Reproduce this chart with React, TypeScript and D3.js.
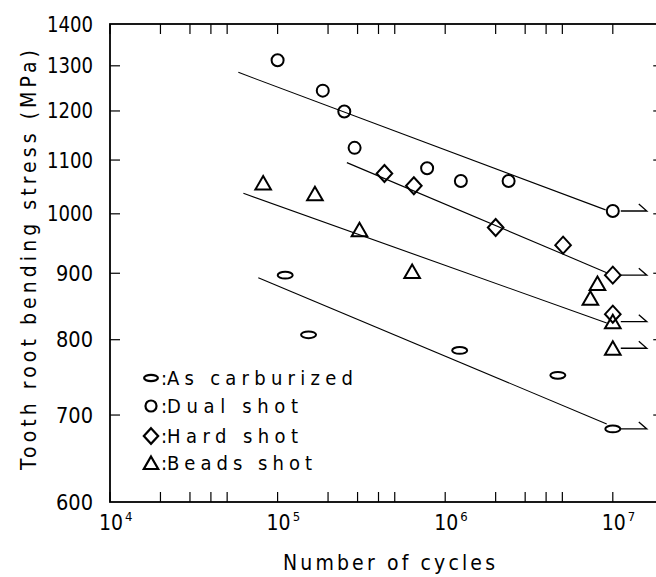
import React from "react";
import * as d3 from "d3";

// ---- data ----
const asCarbN = [1.11e5, 1.53e5, 1.22e6, 4.7e6, 1e7];
const asCarbS = [897, 807, 785, 751, 683];
const asCarbRunout = [false, false, false, false, true];

const dualN = [1.0e5, 1.86e5, 2.5e5, 2.88e5, 7.8e5, 1.24e6, 2.39e6, 1e7];
const dualS = [1313, 1244, 1199, 1124, 1084, 1060, 1060, 1005];
const dualRunout = [false, false, false, false, false, false, false, true];

const hardN = [4.34e5, 6.5e5, 2.0e6, 5.05e6, 1e7, 1e7];
const hardS = [1074, 1051, 976, 946, 897, 837];
const hardRunout = [false, false, false, false, true, false];

const beadsN = [8.2e4, 1.67e5, 3.08e5, 6.35e5, 7.35e6, 8.1e6, 1e7, 1e7];
const beadsS = [1056, 1036, 972, 903, 861, 884, 826, 788];
const beadsRunout = [false, false, false, false, false, false, true, true];

// fitted S-N lines: [startN, startS, endN, endS]
const dualLine = [5.83e4, 1285, 9.06e6, 1007];
const hardLine = [2.59e5, 1095, 9.2e6, 901];
const beadsLine = [6.25e4, 1037, 9.2e6, 824];
const carbLine = [7.67e4, 893, 9.2e6, 689];

const yTicks = [600, 700, 800, 900, 1000, 1100, 1200, 1300, 1400];
const xDecades = [1e4, 1e5, 1e6, 1e7];
const xExponents = ["4", "5", "6", "7"];
const minorMult = [2, 3, 4, 5];

const legendLabels = ["As carburized", "Dual shot", "Hard shot", "Beads shot"];
const legendShapes = ["ellipse", "circle", "diamond", "triangle"];

const yTitle = "Tooth root bending stress (MPa)";
const xTitle = "Number of cycles";

const FONT = "'Liberation Sans Narrow', 'DejaVu Sans Condensed', 'Liberation Sans', sans-serif";

function Marker({ shape, x, y, s = 1, sw = 2 }: { shape: string; x: number; y: number; s?: number; sw?: number }) {
  const common = { fill: "none", stroke: "#000", strokeWidth: sw };
  if (shape === "circle") return <circle cx={x} cy={y} r={6 * s} {...common} />;
  if (shape === "ellipse") return <ellipse cx={x} cy={y} rx={7.5 * s} ry={3.4 * s} {...common} />;
  if (shape === "diamond")
    return (
      <path
        d={`M${x},${y - 8.5 * s}L${x + 7.8 * s},${y}L${x},${y + 8.5 * s}L${x - 7.8 * s},${y}Z`}
        {...common}
      />
    );
  return (
    <path d={`M${x},${y - 7 * s}L${x + 7.8 * s},${y + 6.5 * s}L${x - 7.8 * s},${y + 6.5 * s}Z`} {...common} />
  );
}

export default function App() {
  const W = 656,
    H = 577;
  const x0 = 110,
    dec = 167.6;
  const xs = d3.scaleLog().domain([1e4, 2e7]).range([x0, x0 + Math.log10(2000) * dec]);
  const ys = d3.scaleLog().domain([600, 1400]).range([502, 24]);
  const xR = xs(2e7);
  const yT = ys(1400),
    yB = ys(600);

  const series = [
    { shape: "ellipse", N: asCarbN, S: asCarbS, R: asCarbRunout, line: carbLine },
    { shape: "circle", N: dualN, S: dualS, R: dualRunout, line: dualLine },
    { shape: "diamond", N: hardN, S: hardS, R: hardRunout, line: hardLine },
    { shape: "triangle", N: beadsN, S: beadsS, R: beadsRunout, line: beadsLine },
  ];

  const minorTicks: number[] = [];
  xDecades.forEach((d) => {
    minorTicks.push(d);
    if (d < 1e7) minorMult.forEach((m) => minorTicks.push(d * m));
  });

  const lineGen = d3
    .line<[number, number]>()
    .x((d) => xs(d[0]))
    .y((d) => ys(d[1]));

  return (
    <svg
      width={W}
      height={H}
      style={{ position: "absolute", left: 0, top: 0, background: "#fff" }}
      fontFamily={FONT}
    >
      <rect x={0} y={0} width={W} height={H} fill="#fff" />
      {/* frame */}
      <rect x={x0} y={yT} width={xR - x0} height={yB - yT} fill="none" stroke="#000" strokeWidth={1.8} />
      {/* x ticks */}
      {minorTicks.map((v, i) => (
        <g key={"xt" + i}>
          <line x1={xs(v)} x2={xs(v)} y1={yT} y2={yT + 10} stroke="#000" strokeWidth={1.2} />
          <line x1={xs(v)} x2={xs(v)} y1={yB} y2={yB - 10} stroke="#000" strokeWidth={1.2} />
        </g>
      ))}
      {/* y ticks */}
      {yTicks.slice(1, -1).map((v, i) => (
        <g key={"yt" + i}>
          <line x1={x0} x2={x0 + 10} y1={ys(v)} y2={ys(v)} stroke="#000" strokeWidth={1.2} />
          <line x1={xR} x2={xR - 10} y1={ys(v)} y2={ys(v)} stroke="#000" strokeWidth={1.2} />
        </g>
      ))}
      {/* y tick labels */}
      {yTicks.map((v, i) => {
        const s = String(v);
        const w = s.length === 4 ? 46 : 37;
        return (
          <text
            key={"yl" + i}
            x={93 - w}
            y={ys(v) + 7.5}
            fontSize={21}
            textLength={w}
            lengthAdjust="spacingAndGlyphs"
          >
            {s}
          </text>
        );
      })}
      {/* x tick labels */}
      {xDecades.map((v, i) => {
        const tx = xs(v) - 11;
        return (
          <text key={"xl" + i} x={tx} y={530} fontSize={21}>
            10
            <tspan dx={2} dy={-9} fontSize={13}>
              {xExponents[i]}
            </tspan>
          </text>
        );
      })}
      {/* axis titles */}
      <text x={283} y={570} fontSize={21} textLength={212} lengthAdjust="spacing">
        {xTitle}
      </text>
      <text
        transform={`translate(36,470) rotate(-90)`}
        x={0}
        y={0}
        fontSize={21}
        textLength={420}
        lengthAdjust="spacing"
      >
        {yTitle}
      </text>
      {/* fit lines */}
      {series.map((s, i) => (
        <path
          key={"ln" + i}
          d={
            lineGen([
              [s.line[0], s.line[1]],
              [s.line[2], s.line[3]],
            ]) as string
          }
          fill="none"
          stroke="#000"
          strokeWidth={1.1}
        />
      ))}
      {/* runout arrows */}
      {series.map((s, i) =>
        s.N.map((n, j) =>
          s.R[j] ? (
            <path
              key={`ar${i}-${j}`}
              d={`M${xs(n) + 8},${ys(s.S[j])}H${xs(n) + 34}L${xs(n) + 26},${ys(s.S[j]) - 7}`}
              fill="none"
              stroke="#000"
              strokeWidth={1.3}
            />
          ) : null
        )
      )}
      {/* markers */}
      {series.map((s, i) =>
        s.N.map((n, j) => <Marker key={`m${i}-${j}`} shape={s.shape} x={xs(n)} y={ys(s.S[j])} />)
      )}
      {/* legend */}
      {legendLabels.map((lab, i) => {
        const ly = [385, 413, 443, 470][i];
        const widths = [186, 131, 131, 145];
        return (
          <g key={"lg" + i}>
            <Marker shape={legendShapes[i]} x={151} y={ly - 7} s={0.92} sw={2.2} />
            <text x={161} y={ly} fontSize={20}>
              <tspan>:</tspan>
              <tspan x={167} textLength={widths[i]} lengthAdjust="spacing">
                {lab}
              </tspan>
            </text>
          </g>
        );
      })}
    </svg>
  );
}
